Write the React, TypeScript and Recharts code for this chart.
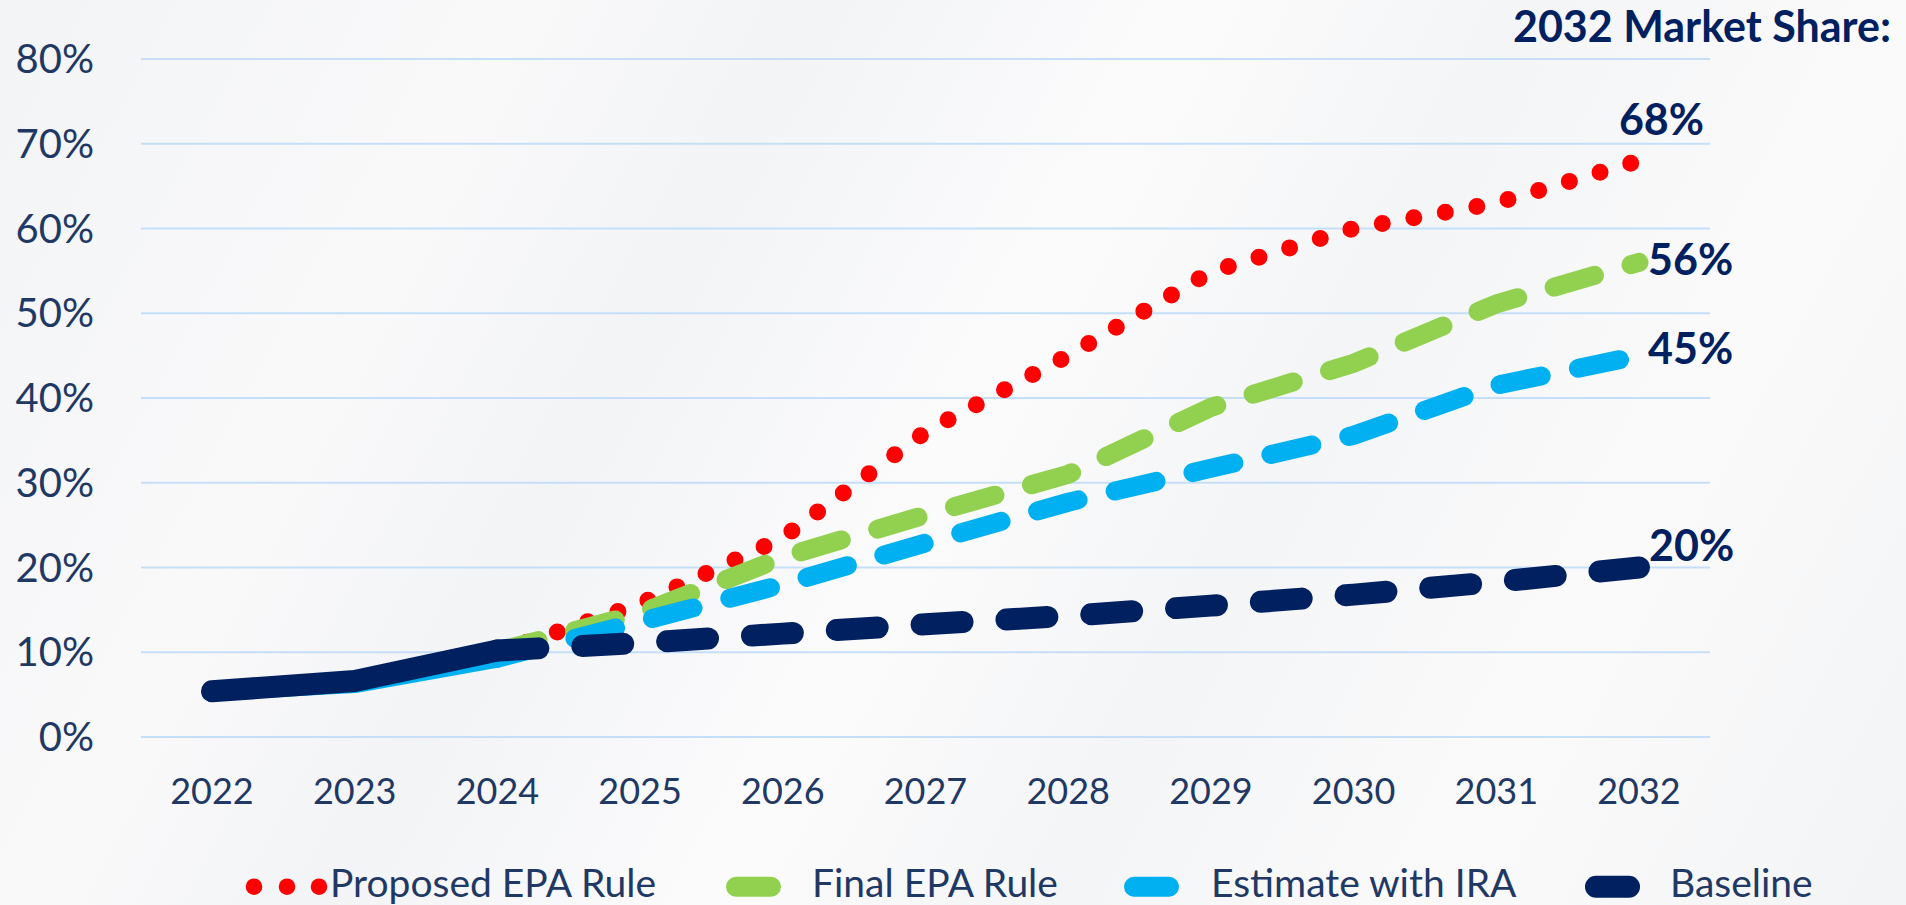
import { LineChart, Line, XAxis, YAxis, CartesianGrid, LabelList } from "recharts";

// EV market share by year, in percent
const YEARS = ["2022", "2023", "2024", "2025", "2026", "2027", "2028", "2029", "2030", "2031", "2032"];
const PROPOSED_EPA = [5.4, 6.5, 10.0, 15.7, 23.5, 36.0, 45.0, 54.9, 60.0, 63.0, 68];
const FINAL_EPA = [5.4, 6.4, 10.1, 14.6, 21.2, 26.2, 31.0, 38.9, 44.1, 51.1, 56];
const IRA_ESTIMATE = [5.4, 6.3, 9.3, 13.6, 18.0, 22.9, 27.7, 31.7, 35.6, 41.5, 45];
const BASELINE = [5.4, 6.6, 10.2, 11.1, 12.2, 13.3, 14.3, 15.5, 16.8, 18.3, 20];
const Y_TICKS = [0, 10, 20, 30, 40, 50, 60, 70, 80];

// index of the last actual year; projections start here
const LAST_ACTUAL = 2;

const FONT = "Lato, 'Open Sans', sans-serif";
const TEXT = "#1F3864";
const NAVY = "#002060";
const RED = "#FF0000";
const GREEN = "#92D050";
const BLUE = "#00B0F0";

const data = YEARS.map((year, i) => ({
  year,
  proposed: PROPOSED_EPA[i],
  finalHist: i <= LAST_ACTUAL ? FINAL_EPA[i] : null,
  finalProj: i >= LAST_ACTUAL ? FINAL_EPA[i] : null,
  iraHist: i <= LAST_ACTUAL ? IRA_ESTIMATE[i] : null,
  iraProj: i >= LAST_ACTUAL ? IRA_ESTIMATE[i] : null,
  baseHist: i <= LAST_ACTUAL ? BASELINE[i] : null,
  baseProj: i >= LAST_ACTUAL ? BASELINE[i] : null,
}));

function endLabel(dx: number, dy: number, anchor: "start" | "end") {
  return (props: any) => {
    const { x, y, value, index } = props;
    if (index !== YEARS.length - 1 || value == null) return null;
    return (
      <text
        x={x + dx}
        y={y + dy}
        textAnchor={anchor}
        fill={NAVY}
        fontSize={43}
        fontWeight={700}
        fontFamily={FONT}
      >
        {`${Math.round(value)}%`}
      </text>
    );
  };
}

const LEGEND_Y = 886.7;

function ChartLegend() {
  return (
    <svg width={1906} height={905} style={{ position: "absolute", left: 0, top: 0, pointerEvents: "none" }}>
      <text x={1891} y={42} textAnchor="end" fill={NAVY} fontSize={43} fontWeight={700} fontFamily={FONT}>
        2032 Market Share:
      </text>
      <g fontFamily={FONT} fontSize={39} fill={TEXT}>
        {[254, 287, 319].map((cx) => (
          <circle key={cx} cx={cx} cy={LEGEND_Y} r={8.3} fill={RED} />
        ))}
        <text x={330} y={897}>Proposed EPA Rule</text>
        <rect x={726} y={LEGEND_Y - 10} width={55} height={20} rx={10} fill={GREEN} />
        <text x={812} y={897}>Final EPA Rule</text>
        <rect x={1124} y={LEGEND_Y - 10} width={55} height={20} rx={10} fill={BLUE} />
        <text x={1211} y={897}>Estimate with IRA</text>
        <rect x={1585} y={LEGEND_Y - 11} width={55} height={22} rx={11} fill={NAVY} />
        <text x={1670} y={897}>Baseline</text>
      </g>
    </svg>
  );
}

export default function App() {
  return (
    <div
      style={{
        position: "absolute",
        left: 0,
        top: 0,
        width: 1906,
        height: 905,
        overflow: "hidden",
        background:
          "linear-gradient(118deg, #f3f4f6 0%, #f9f9fa 22%, #f3f4f6 34%, #fbfbfc 50%, #f4f5f6 64%, #fafafb 80%, #f3f4f5 100%)",
      }}
    >
      <LineChart
        width={1906}
        height={905}
        data={data}
        margin={{ top: 59, right: 196, bottom: 108, left: 0 }}
      >
        <CartesianGrid vertical={false} stroke="#C5DFF8" strokeWidth={2} />
        <XAxis
          dataKey="year"
          padding={{ left: 71, right: 71 }}
          axisLine={false}
          tickLine={false}
          tickSize={0}
          tickMargin={41}
          height={60}
          interval={0}
          tick={{ fill: TEXT, fontSize: 36, fontFamily: FONT }}
        />
        <YAxis
          width={141}
          domain={[0, 80]}
          ticks={Y_TICKS}
          axisLine={false}
          tickLine={false}
          tickSize={0}
          tickMargin={47}
          tickFormatter={(v: number) => `${v}%`}
          tick={{ fill: TEXT, fontSize: 40, fontFamily: FONT }}
        />
        <Line
          dataKey="proposed"
          name="Proposed EPA Rule"
          stroke={RED}
          strokeWidth={17}
          strokeDasharray="0 32"
          strokeLinecap="round"
          dot={false}
          activeDot={false}
          isAnimationActive={false}
        >
          <LabelList content={endLabel(65, -26, "end")} />
        </Line>
        <Line
          dataKey="finalHist"
          stroke={GREEN}
          strokeWidth={19}
          strokeLinecap="round"
          strokeLinejoin="round"
          dot={false}
          activeDot={false}
          isAnimationActive={false}
        />
        <Line
          dataKey="finalProj"
          name="Final EPA Rule"
          stroke={GREEN}
          strokeWidth={19}
          strokeDasharray="42 38"
          strokeLinecap="round"
          dot={false}
          activeDot={false}
          isAnimationActive={false}
        >
          <LabelList content={endLabel(9, 13, "start")} />
        </Line>
        <Line
          dataKey="iraHist"
          stroke={BLUE}
          strokeWidth={19}
          strokeLinecap="round"
          strokeLinejoin="round"
          dot={false}
          activeDot={false}
          isAnimationActive={false}
        />
        <Line
          dataKey="iraProj"
          name="Estimate with IRA"
          stroke={BLUE}
          strokeWidth={19}
          strokeDasharray="42 38"
          strokeLinecap="round"
          dot={false}
          activeDot={false}
          isAnimationActive={false}
        >
          <LabelList content={endLabel(9, 8, "start")} />
        </Line>
        <Line
          dataKey="baseHist"
          stroke={NAVY}
          strokeWidth={22}
          strokeLinecap="round"
          strokeLinejoin="round"
          dot={false}
          activeDot={false}
          isAnimationActive={false}
        />
        <Line
          dataKey="baseProj"
          name="Baseline"
          stroke={NAVY}
          strokeWidth={22}
          strokeDasharray="41 44"
          strokeLinecap="round"
          dot={false}
          activeDot={false}
          isAnimationActive={false}
        >
          <LabelList content={endLabel(10, -7, "start")} />
        </Line>
      </LineChart>
      <ChartLegend />
    </div>
  );
}
